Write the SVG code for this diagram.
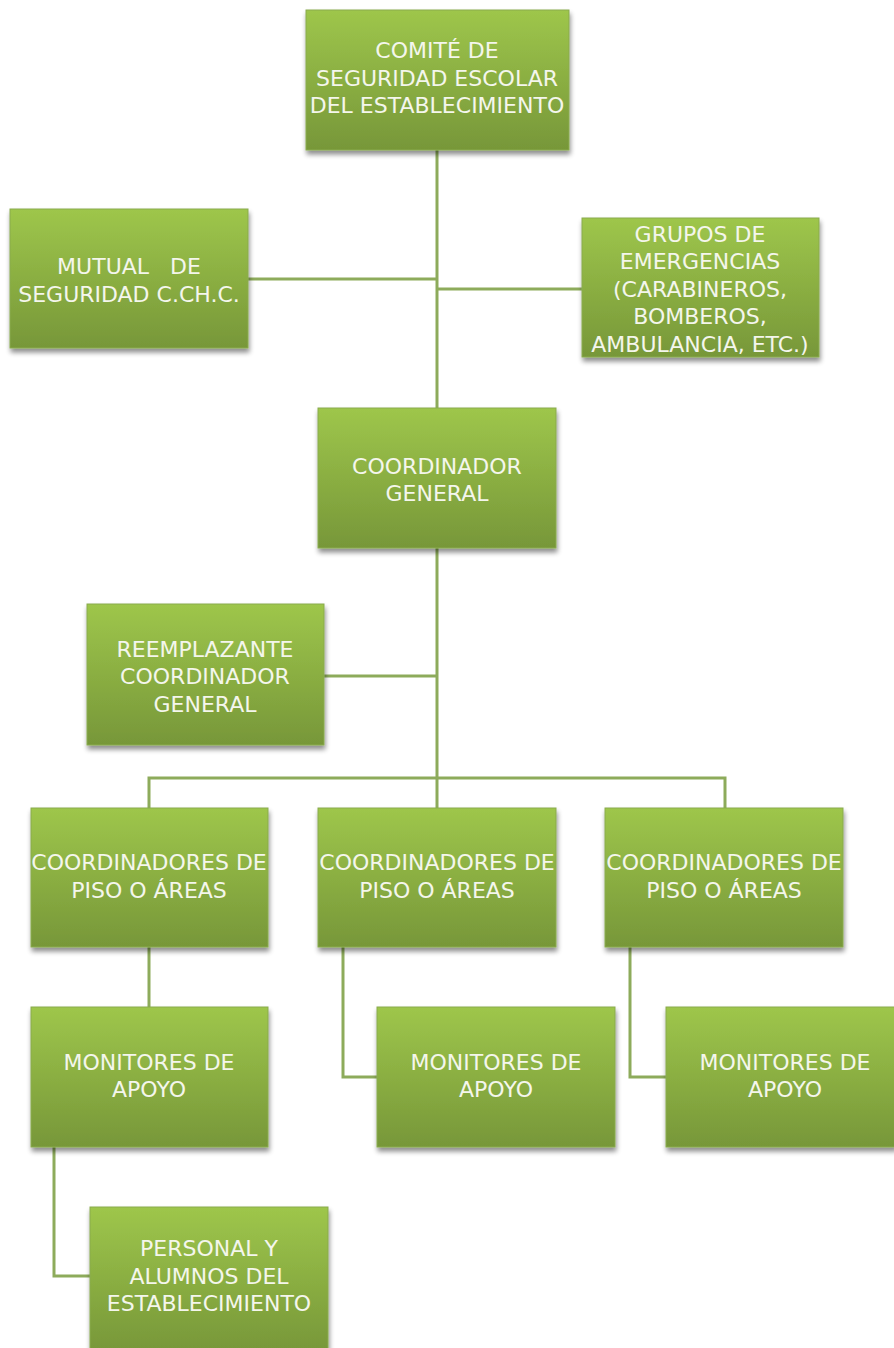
<svg xmlns="http://www.w3.org/2000/svg" width="894" height="1348" viewBox="0 0 894 1348">
<defs>
<linearGradient id="g" x1="0" y1="0" x2="0" y2="1">
<stop offset="0" stop-color="#9ec64b"/>
<stop offset="1" stop-color="#779739"/>
</linearGradient>
<filter id="sh" x="-10%" y="-10%" width="125%" height="130%">
<feGaussianBlur in="SourceAlpha" stdDeviation="2.5"/>
<feOffset dx="1" dy="4" result="b"/>
<feComponentTransfer><feFuncA type="linear" slope="0.45"/></feComponentTransfer>
<feMerge><feMergeNode/><feMergeNode in="SourceGraphic"/></feMerge>
</filter>
</defs>
<style>
.box{fill:url(#g);stroke:#8aab4e;stroke-width:1;filter:url(#sh)}
.t{font-family:"DejaVu Sans",sans-serif;font-size:22px;fill:#f4f6ec;text-anchor:middle}
.c{fill:none;stroke:#8dab5b;stroke-width:3}
</style>
<rect width="894" height="1348" fill="#ffffff"/>
<g id="connectors">
<path class="c" d="M437 150V408"/>
<path class="c" d="M248 279H437"/>
<path class="c" d="M437 289H582"/>
<path class="c" d="M437 548V808"/>
<path class="c" d="M324 676H437"/>
<path class="c" d="M149 808V778H725V808"/>
<path class="c" d="M149 947V1007"/>
<path class="c" d="M343 947V1077H377"/>
<path class="c" d="M630 947V1077H666"/>
<path class="c" d="M54 1147V1276H90"/>
</g>
<g id="comite"><rect class="box" x="306" y="10" width="263" height="140"/>
<text class="t" x="437" y="58">COMITÉ DE</text><text class="t" x="437" y="86">SEGURIDAD ESCOLAR</text><text class="t" x="437" y="113">DEL ESTABLECIMIENTO</text></g>
<g id="mutual"><rect class="box" x="10" y="209" width="238" height="139"/>
<text class="t" x="129" y="274" xml:space="preserve">MUTUAL   DE</text><text class="t" x="129" y="302">SEGURIDAD C.CH.C.</text></g>
<g id="grupos"><rect class="box" x="582" y="218" width="237" height="139"/>
<text class="t" x="700" y="242">GRUPOS DE</text><text class="t" x="700" y="269">EMERGENCIAS</text><text class="t" x="700" y="297">(CARABINEROS,</text><text class="t" x="700" y="324">BOMBEROS,</text><text class="t" x="700" y="352">AMBULANCIA, ETC.)</text></g>
<g id="coordinador"><rect class="box" x="318" y="408" width="238" height="140"/>
<text class="t" x="437" y="474">COORDINADOR</text><text class="t" x="437" y="501">GENERAL</text></g>
<g id="reemplazante"><rect class="box" x="87" y="604" width="237" height="141"/>
<text class="t" x="205" y="657">REEMPLAZANTE</text><text class="t" x="205" y="684">COORDINADOR</text><text class="t" x="205" y="712">GENERAL</text></g>
<g id="coord1"><rect class="box" x="31" y="808" width="237" height="139"/>
<text class="t" x="149" y="870">COORDINADORES DE</text><text class="t" x="149" y="898">PISO O ÁREAS</text></g>
<g id="coord2"><rect class="box" x="318" y="808" width="238" height="139"/>
<text class="t" x="437" y="870">COORDINADORES DE</text><text class="t" x="437" y="898">PISO O ÁREAS</text></g>
<g id="coord3"><rect class="box" x="605" y="808" width="238" height="139"/>
<text class="t" x="724" y="870">COORDINADORES DE</text><text class="t" x="724" y="898">PISO O ÁREAS</text></g>
<g id="monitores1"><rect class="box" x="31" y="1007" width="237" height="140"/>
<text class="t" x="149" y="1070">MONITORES DE</text><text class="t" x="149" y="1097">APOYO</text></g>
<g id="monitores2"><rect class="box" x="377" y="1007" width="238" height="140"/>
<text class="t" x="496" y="1070">MONITORES DE</text><text class="t" x="496" y="1097">APOYO</text></g>
<g id="monitores3"><rect class="box" x="666" y="1007" width="230" height="140"/>
<text class="t" x="785" y="1070">MONITORES DE</text><text class="t" x="785" y="1097">APOYO</text></g>
<g id="personal"><rect class="box" x="90" y="1207" width="238" height="145"/>
<text class="t" x="209" y="1256" xml:space="preserve">PERSONAL Y</text><text class="t" x="209" y="1284">ALUMNOS DEL</text><text class="t" x="209" y="1311">ESTABLECIMIENTO</text></g>
</svg>
